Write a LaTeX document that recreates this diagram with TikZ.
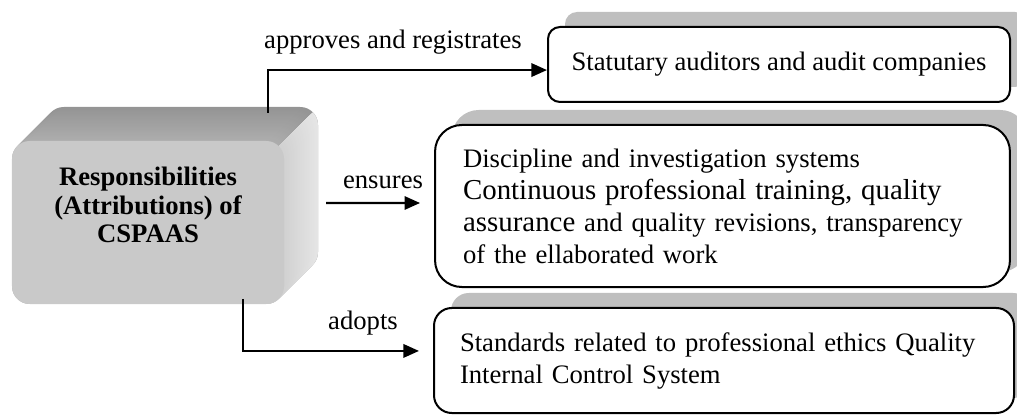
\documentclass[tikz,border=0pt]{standalone}
\usepackage{fontspec}
\setmainfont{Liberation Serif}
\usetikzlibrary{arrows.meta}
\definecolor{shadowgray}{gray}{0.75}
\definecolor{cubefront}{gray}{0.79}
\definecolor{cubetopback}{gray}{0.58}
\definecolor{cubetopfront}{gray}{0.68}
\definecolor{cubesideback}{gray}{0.90}
\definecolor{cubesidefront}{gray}{0.82}
\newcommand{\largerpart}[1]{{\fontsize{13}{14.4}\selectfont #1}}
\begin{document}
\begin{tikzpicture}[x=0.45pt,y=-0.45pt,
	every node/.style={font=\fontsize{12}{14.4}\selectfont},
	outbox/.style={draw=black, line width=0.9pt, fill=white, inner sep=0pt},
	conn/.style={line width=1pt, -{Triangle[length=7pt,width=6pt]}}]
	\useasboundingbox (0,0) rectangle (1017,415);
	\clip (0,0) rectangle (1017,415);
	\foreach \d [evaluate=\d as \p using int(100*\d/34)] in {34,33,...,0}
		\fill [cubetopback!\p!cubetopfront, rounded corners=8pt] ({12+\d},{141-\d}) rectangle ({284+\d},{304-\d});
	\begin{scope}
		\clip (250,175) -- (400,25) -- (400,400) -- (250,400) -- cycle;
		\foreach \d [evaluate=\d as \p using int(100*\d/34)] in {34,33,...,0}
			\fill [cubesideback!\p!cubesidefront, rounded corners=8pt] ({12+\d},{141-\d}) rectangle ({284+\d},{304-\d});
	\end{scope}
	\node [fill=cubefront, rounded corners=8pt, minimum width=122.4pt, minimum height=73.35pt, inner sep=0pt] (cspaas) at (148,222.5) {};
	\node [font=\bfseries\fontsize{12}{12.8}\selectfont, align=center] (cspaastext) at (148,205) {Responsibilities\\(Attributions) of\\CSPAAS};
	\fill [shadowgray, rounded corners=5.4pt] (565,12) rectangle (1027,87);
	\fill [shadowgray, rounded corners=12pt] (452,110) rectangle (1027,272);
	\fill [shadowgray, rounded corners=8pt] (451,293) rectangle (1031,398);
	\node [outbox, rounded corners=5.4pt, minimum width=207.9pt, minimum height=33.75pt] (auditors) at (779,64.5) {Statutary auditors and audit companies};
	\node [outbox, rounded corners=12pt, minimum height=72.9pt, text width=233.5pt, inner xsep=12.6pt, align=left] (discipline) at (722.5,206) {Discipline and investigation systems\\\largerpart{Continuous professional training, quality}\\\largerpart{assurance} and quality revisions, transparency\\of the ellaborated work};
	\node [outbox, rounded corners=8pt, minimum height=47.25pt, text width=237.6pt, inner xsep=11.7pt, align=left] (standards) at (724,360.5) {Standards related to professional ethics Quality\\Internal Control System\\[-4pt]};
	\coordinate (apstart) at (268,113);
	\coordinate (enstart) at (326,203);
	\coordinate (adstart) at (243,299);
	\draw [conn] (apstart) |- ([yshift=-2.5pt]auditors.west);
	\draw [conn] (enstart) -- ([xshift=-6.3pt,yshift=1.35pt]discipline.west);
	\draw [conn] (adstart) |- ([xshift=-6.3pt,yshift=4.3pt]standards.west);
	\node (approveslabel) at (393,42) {approves and registrates};
	\node (ensureslabel) at (383,182) {ensures};
	\node (adoptslabel) at (363,323) {adopts};
\end{tikzpicture}
\end{document}
